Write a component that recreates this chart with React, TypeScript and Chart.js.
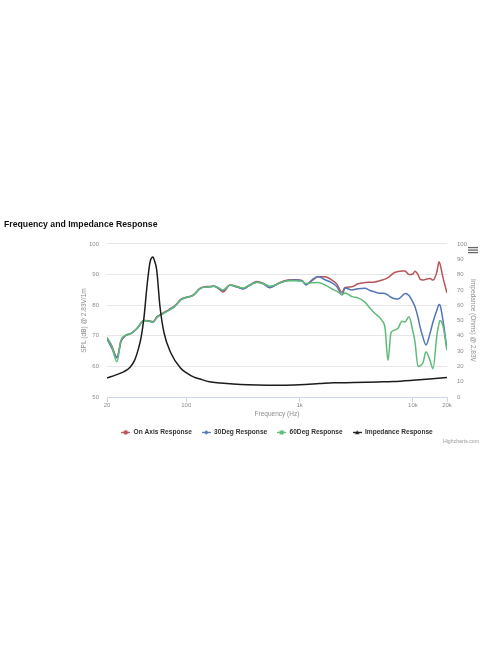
import React, { useEffect, useRef } from 'react';
import { Chart, registerables } from 'chart.js';

Chart.register(...registerables);

const FONT = '"Liberation Sans", Arial, sans-serif';

const splFreqs = [20, 22, 24.5, 26.6, 29.4, 32.6, 36.8, 42.4, 46.9, 51, 55, 62, 70, 80, 90, 100, 115, 132, 145, 162, 175, 190, 211, 243, 281, 317, 365, 421, 476, 549, 632, 672, 791, 912, 1050, 1140, 1290, 1455, 1680, 1930, 2140, 2370, 2520, 2900, 3280, 3780, 4190, 4630, 4920, 5340, 5680, 6030, 6410, 6820, 7390, 8020, 8520, 9240, 10000, 10440, 11100, 11560, 12280, 13050, 14160, 15050, 16320, 17000, 17350, 18440, 20000];

const onAxis = [69.3, 66.8, 62.8, 68.2, 70.1, 70.8, 72.4, 75.0, 74.9, 74.6, 76.2, 77.4, 78.5, 80.0, 82.0, 82.6, 83.3, 85.5, 86.0, 86.1, 86.3, 85.6, 84.3, 86.6, 86.1, 85.4, 86.7, 87.7, 87.2, 85.8, 86.9, 87.4, 88.2, 88.3, 88.1, 86.8, 88.0, 89.3, 89.3, 88.2, 86.8, 84.2, 85.8, 86.0, 87.0, 87.4, 87.5, 87.6, 87.8, 88.2, 88.5, 89.0, 89.8, 90.6, 91.0, 91.2, 91.2, 90.0, 90.2, 91.1, 90.0, 88.5, 88.2, 88.5, 88.7, 88.2, 91.0, 94.2, 93.5, 89.0, 84.0];

const deg30 = [69.0, 66.0, 63.0, 68.4, 70.2, 70.8, 72.4, 75.0, 74.8, 74.5, 76.0, 77.2, 78.3, 79.8, 81.8, 82.5, 83.2, 85.3, 85.9, 86.0, 86.2, 85.7, 84.8, 86.5, 85.9, 85.3, 86.5, 87.5, 87.0, 85.7, 86.8, 87.3, 88.1, 88.2, 88.0, 86.6, 88.3, 89.4, 88.3, 87.3, 86.0, 83.4, 85.6, 85.0, 85.4, 85.5, 84.8, 84.3, 84.0, 83.9, 83.8, 83.3, 82.6, 82.2, 82.0, 83.0, 83.8, 83.2, 81.0, 79.5, 76.0, 73.0, 69.5, 67.0, 70.8, 74.5, 78.5, 80.2, 80.0, 75.0, 65.5];

const deg60 = [69.5, 66.6, 61.5, 68.6, 70.2, 70.8, 72.4, 75.0, 74.8, 74.4, 76.0, 77.2, 78.3, 79.8, 81.8, 82.5, 83.2, 85.4, 85.9, 86.0, 86.2, 85.8, 85.0, 86.6, 86.0, 85.6, 86.6, 87.5, 87.1, 86.2, 86.8, 87.3, 88.0, 88.0, 87.8, 87.1, 87.3, 87.4, 86.6, 85.3, 84.5, 83.5, 84.0, 82.8, 82.4, 81.0, 79.0, 77.3, 76.5, 75.0, 72.5, 62.0, 71.0, 71.8, 72.5, 74.8, 74.5, 76.2, 71.5, 68.0, 60.0, 60.2, 61.2, 64.8, 62.0, 59.3, 70.5, 74.0, 75.0, 73.2, 65.3];

const impFreqs = [20, 24, 28, 32, 35, 38, 40, 42.4, 45.3, 47.9, 50.9, 52.5, 54.9, 58.7, 63.7, 73, 89, 100, 117, 132, 160, 200, 260, 350, 520, 700, 1000, 1500, 2000, 3000, 5000, 6700, 10000, 14000, 20000];

const impedance = [12.4, 14.5, 16.5, 19.5, 24, 32, 39, 52, 74, 88, 91.5, 89, 83, 59, 42, 29, 19, 16, 13, 11.8, 10, 9.2, 8.5, 8.0, 7.8, 7.8, 8.1, 8.8, 9.3, 9.5, 9.9, 10.2, 11, 11.8, 12.8];

const xTickValues = [20, 100, 1000, 10000, 20000];
const xTickLabels = ['20', '100', '1k', '10k', '20k'];

const seriesNames = ['On Axis Response', '30Deg Response', '60Deg Response', 'Impedance Response'];
const seriesColors = ['#b8555a', '#5276b8', '#5dbb78', '#1c1c1c'];
const markerShapes = ['circle', 'diamond', 'square', 'triangle'];

function makeLegendSymbol(color: string, shape: string): HTMLCanvasElement {
  const c = document.createElement('canvas');
  c.width = 9;
  c.height = 7;
  const ctx = c.getContext('2d')!;
  ctx.strokeStyle = color;
  ctx.lineWidth = 1.3;
  ctx.beginPath();
  ctx.moveTo(0, 3.5);
  ctx.lineTo(9, 3.5);
  ctx.stroke();
  ctx.fillStyle = color;
  const cx = 4.5, cy = 3.5, r = 2.3;
  ctx.beginPath();
  if (shape === 'circle') {
    ctx.arc(cx, cy, r, 0, Math.PI * 2);
  } else if (shape === 'diamond') {
    ctx.moveTo(cx, cy - r);
    ctx.lineTo(cx + r, cy);
    ctx.lineTo(cx, cy + r);
    ctx.lineTo(cx - r, cy);
    ctx.closePath();
  } else if (shape === 'square') {
    ctx.rect(cx - 2, cy - 2, 4, 4);
  } else {
    ctx.moveTo(cx, cy - r);
    ctx.lineTo(cx + r, cy + r * 0.8);
    ctx.lineTo(cx - r, cy + r * 0.8);
    ctx.closePath();
  }
  ctx.fill();
  return c;
}

export default function App() {
  const ref = useRef<HTMLCanvasElement>(null);

  useEffect(() => {
    if (!ref.current) return;
    const symbols = seriesColors.map((c, i) => makeLegendSymbol(c, markerShapes[i]));
    const toPts = (xs: number[], ys: number[]) => xs.map((x, i) => ({ x, y: ys[i] }));

    const extras = {
      id: 'extras',
      afterDraw(chart: any) {
        const { ctx, chartArea, width } = chart;
        ctx.save();
        ctx.fillStyle = '#666666';
        for (let i = 0; i < 3; i++) {
          ctx.fillRect(width - 28, chartArea.top + 3 + i * 2.5, 10, 1.3);
        }
        ctx.font = `5.2px ${FONT}`;
        ctx.fillStyle = '#999999';
        ctx.textAlign = 'right';
        ctx.textBaseline = 'middle';
        ctx.fillText('Highcharts.com', width - 17, chartArea.bottom + 44);
        ctx.restore();
      },
    };

    const tickFont = { size: 6, family: FONT };
    const titleFont = { size: 6.5, family: FONT };
    const axisColor = '#8c8c8c';

    const chart = new Chart(ref.current, {
      type: 'line',
      data: {
        datasets: [
          { label: seriesNames[0], data: toPts(splFreqs, onAxis), borderColor: seriesColors[0], backgroundColor: seriesColors[0], yAxisID: 'y', order: 4 },
          { label: seriesNames[1], data: toPts(splFreqs, deg30), borderColor: seriesColors[1], backgroundColor: seriesColors[1], yAxisID: 'y', order: 3 },
          { label: seriesNames[2], data: toPts(splFreqs, deg60), borderColor: seriesColors[2], backgroundColor: seriesColors[2], yAxisID: 'y', order: 2 },
          { label: seriesNames[3], data: toPts(impFreqs, impedance), borderColor: seriesColors[3], backgroundColor: seriesColors[3], yAxisID: 'y2', order: 1 },
        ],
      },
      options: {
        animation: false,
        responsive: true,
        maintainAspectRatio: false,
        events: [],
        layout: { padding: { left: 4, right: 0, top: 219, bottom: 218.3 } },
        elements: {
          point: { radius: 0 },
          line: { borderWidth: 1.5, cubicInterpolationMode: 'monotone', fill: false },
        },
        scales: {
          x: {
            type: 'logarithmic',
            min: 20,
            max: 20000,
            afterBuildTicks: (s: any) => {
              s.ticks = xTickValues.map((v) => ({ value: v }));
            },
            afterFit: (s: any) => {
              s.height = 22;
            },
            ticks: {
              autoSkip: false,
              maxRotation: 0,
              padding: 0,
              font: tickFont,
              color: axisColor,
              callback: (v: any) => {
                const i = xTickValues.indexOf(Number(v));
                return i >= 0 ? xTickLabels[i] : '';
              },
            },
            grid: { drawOnChartArea: false, tickLength: 5, color: '#ccd6eb' },
            border: { display: true, color: '#ccd6eb' },
            title: { display: true, text: 'Frequency (Hz)', font: titleFont, color: axisColor, padding: { top: 0, bottom: 1.1 } },
          },
          y: {
            position: 'left',
            min: 50,
            max: 100,
            afterFit: (s: any) => {
              s.width = 103;
            },
            ticks: { stepSize: 10, padding: 8, font: tickFont, color: axisColor },
            grid: { color: '#e6e6e6', drawTicks: false },
            border: { display: false },
            title: { display: true, text: 'SPL (dB) @ 2.83V/1m', font: titleFont, color: axisColor, padding: { top: 76, bottom: 0 } },
          },
          y2: {
            position: 'right',
            min: 0,
            max: 100,
            afterFit: (s: any) => {
              s.width = 49;
            },
            ticks: { stepSize: 10, padding: 10, font: tickFont, color: axisColor },
            grid: { drawOnChartArea: false, drawTicks: false },
            border: { display: false },
            title: { display: true, text: 'Impedance (Ohms) @ 2.83V', font: titleFont, color: axisColor, padding: { top: 19, bottom: 0 } },
          },
        },
        plugins: {
          title: {
            display: true,
            text: 'Frequency and Impedance Response',
            align: 'start',
            color: '#111111',
            font: { size: 8.7, weight: 'bold', family: FONT },
            padding: { top: 0, bottom: 14.5 },
          },
          legend: {
            position: 'bottom',
            fullSize: false,
            labels: {
              usePointStyle: true,
              pointStyleWidth: 9,
              padding: 10,
              color: '#333333',
              font: { size: 6.6, weight: 'bold', family: FONT },
              sort: (a: any, b: any) => a.datasetIndex - b.datasetIndex,
              generateLabels: (ch: any) =>
                ch.data.datasets.map((ds: any, i: number) => ({
                  text: ds.label,
                  fillStyle: seriesColors[i],
                  strokeStyle: seriesColors[i],
                  fontColor: '#333333',
                  lineWidth: 0,
                  pointStyle: symbols[i],
                  hidden: false,
                  datasetIndex: i,
                })),
            },
          },
          tooltip: { enabled: false },
        },
      } as any,
      plugins: [extras],
    });

    return () => chart.destroy();
  }, []);

  return (
    <div style={{ position: 'absolute', left: 0, top: 0, width: 496, height: 664 }}>
      <canvas ref={ref} />
    </div>
  );
}
